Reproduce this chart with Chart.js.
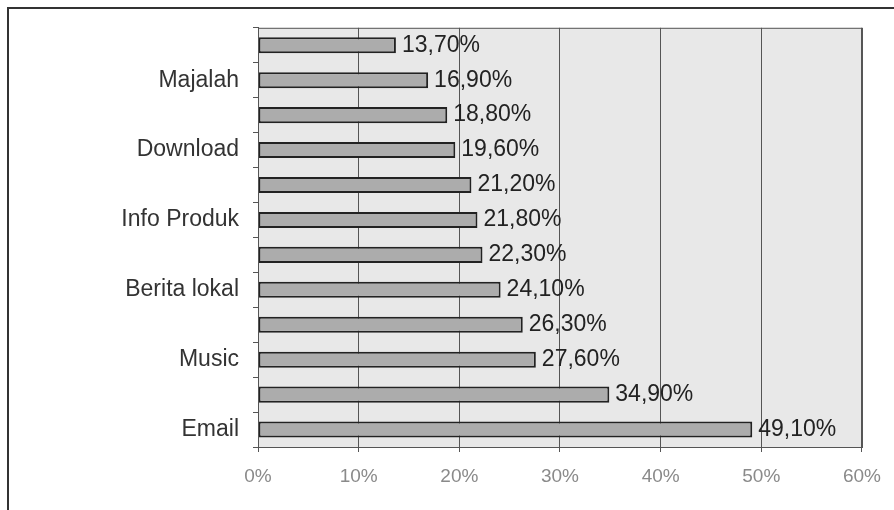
<!DOCTYPE html>
<html><head><meta charset="utf-8">
<script src="https://cdn.jsdelivr.net/npm/chart.js@4"></script>
<style>html,body{margin:0;padding:0;background:#fff}#wrap{width:894px;height:510px;position:relative}</style>
</head><body><div id="wrap"><canvas id="c" width="894" height="510"></canvas></div>
<script>
const categories = ["", "Majalah", "", "Download", "", "Info Produk", "", "Berita lokal", "", "Music", "", "Email"];
const values = [13.7, 16.9, 18.8, 19.6, 21.2, 21.8, 22.3, 24.1, 26.3, 27.6, 34.9, 49.1];
const valueLabels = ["13,70%", "16,90%", "18,80%", "19,60%", "21,20%", "21,80%", "22,30%", "24,10%", "26,30%", "27,60%", "34,90%", "49,10%"];
const xTicks = [0, 10, 20, 30, 40, 50, 60];

const bgPlugin = {
  id: 'bg',
  beforeDraw(chart) {
    const {ctx, chartArea: a} = chart;
    ctx.save();
    ctx.fillStyle = '#e8e8e8';
    ctx.fillRect(a.left, a.top, a.right - a.left, a.bottom - a.top);
    ctx.restore();
  },
  afterDraw(chart) {
    const {ctx, chartArea: a} = chart;
    ctx.save();
    ctx.strokeStyle = '#555';
    ctx.lineWidth = 1;
    ctx.strokeRect(a.left + 0.5, a.top + 0.5, a.right - a.left, a.bottom - a.top);
    ctx.strokeStyle = '#333';
    ctx.lineWidth = 2;
    ctx.beginPath();
    ctx.moveTo(8, 510); ctx.lineTo(8, 8); ctx.lineTo(894, 8);
    ctx.stroke();
    // value labels
    const meta = chart.getDatasetMeta(0);
    ctx.fillStyle = '#222';
    ctx.font = '23px "Liberation Sans", Arial, sans-serif';
    ctx.textBaseline = 'middle';
    ctx.textAlign = 'left';
    meta.data.forEach((bar, i) => {
      ctx.fillText(valueLabels[i], bar.x + 6, bar.y);
    });
    ctx.restore();
  }
};

new Chart(document.getElementById('c'), {
  type: 'bar',
  data: {
    labels: categories,
    datasets: [{
      data: values,
      backgroundColor: '#acacac',
      borderColor: '#222',
      borderWidth: 2,
      borderSkipped: false,
      barPercentage: 0.46,
      categoryPercentage: 1
    }]
  },
  options: {
    indexAxis: 'y',
    responsive: false,
    animation: false,
    layout: {padding: {left: 0, right: 31, top: 27, bottom: 8}},
    plugins: {legend: {display: false}, tooltip: {enabled: false}},
    scales: {
      x: {
        min: 0, max: 60,
        afterBuildTicks(scale) { scale.ticks = xTicks.map(v => ({value: v})); },
        grid: {color: '#555', tickLength: 5, drawTicks: true},
        border: {display: true, color: '#555'},
        ticks: {
          callback: v => v + '%',
          color: '#8a8a8a',
          font: {family: '"Liberation Sans", Arial, sans-serif', size: 19},
          padding: 13,
          maxRotation: 0
        },
        afterFit(scale) { scale.height = 55; }
      },
      y: {
        grid: {drawOnChartArea: false, drawTicks: true, tickLength: 5, color: '#555', offset: true},
        border: {display: true, color: '#555'},
        ticks: {
          autoSkip: false,
          color: '#333',
          font: {family: '"Liberation Sans", Arial, sans-serif', size: 23},
          padding: 14
        },
        afterFit(scale) { scale.width = 258; }
      }
    }
  },
  plugins: [bgPlugin]
});
</script>
</body></html>
